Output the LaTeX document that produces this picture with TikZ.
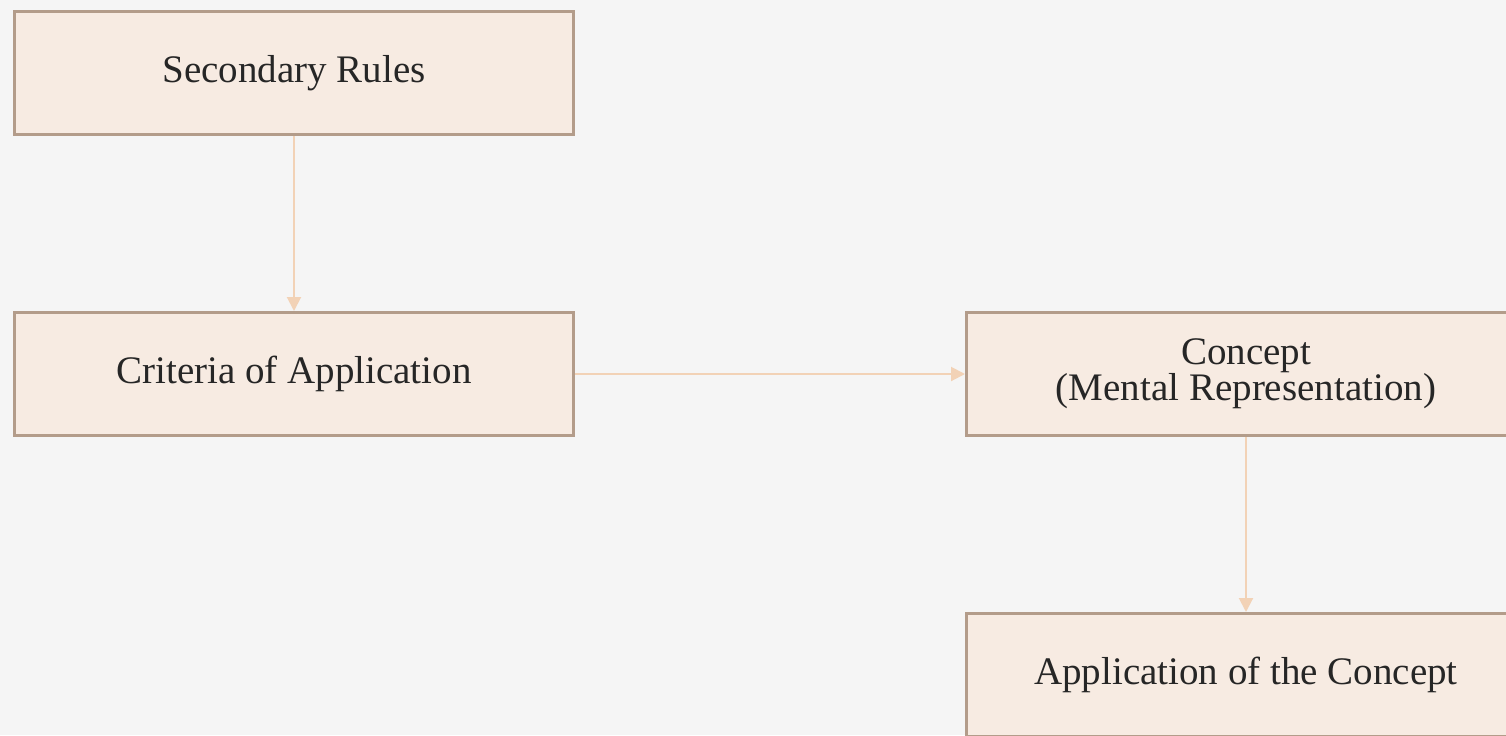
\documentclass[tikz,border=0pt]{standalone}
\usepackage{xcolor}
\usepackage{fontspec}
\setmainfont{Liberation Serif}
\usepackage{tikz}
\usetikzlibrary{arrows.meta, positioning}
\definecolor{bgcol}{HTML}{F5F5F5}
\definecolor{boxfill}{HTML}{F7EBE2}
\definecolor{boxline}{HTML}{B39C8A}
\definecolor{arrowcol}{HTML}{F2D2B6}
\tikzset{font=\fontsize{19.5}{18}\selectfont}
\tikzset{stage/.style={rectangle, draw=boxline, fill=boxfill, line width=1.5pt,
  minimum width=279.5pt, minimum height=61.5pt, align=center, text=black!85}}
\tikzset{flow/.style={draw=arrowcol, line width=1pt,
  -{Triangle[length=7pt,width=7pt]}}}

\begin{document}
\begin{tikzpicture}[x=0.5pt, y=-0.5pt, node distance=87.5pt]
  % Canvas
  \fill[bgcol] (0,0) rectangle (1506,735);
  \clip (0,0) rectangle (1506,735);
  \useasboundingbox (0,0) rectangle (1506,735);
  %Nodes
  \node[stage, anchor=north west] (rules) at (13,10) {Secondary Rules};
  \node[stage] (criteria) [below=of rules] {Criteria of Application};
  \node[stage] (concept) [right=195pt of criteria] {Concept\\(Mental Representation)};
  \node[stage] (use) [below=of concept] {Application of the Concept};
  % Edges
  \draw[flow] (rules) -- (criteria);
  \draw[flow] (criteria) -- (concept);
  \draw[flow] (concept) -- (use);
\end{tikzpicture}
\end{document}
